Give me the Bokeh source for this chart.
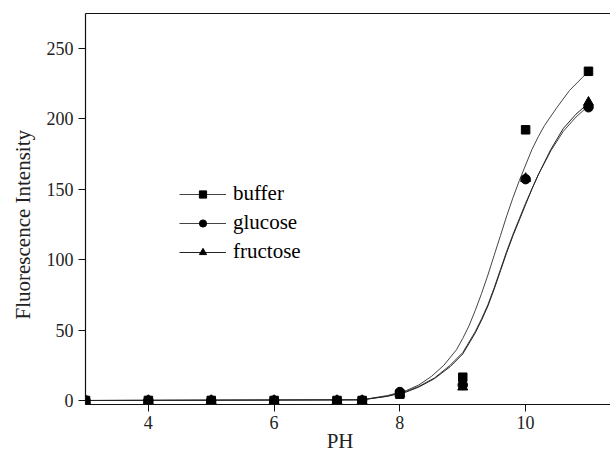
from bokeh.plotting import figure
from bokeh.models import Range1d, LinearAxis, FixedTicker, Legend, LegendItem
from bokeh.embed import file_html
from bokeh.resources import INLINE

# measured points
ph = [3, 4, 5, 6, 7, 7.4, 8, 9, 10, 11]
buffer_vals = [0, 0, 0, 0, 0, 0, 4.5, 16.5, 192, 233.5]
glucose_vals = [0, 0, 0, 0, 0, 0, 6, 11, 157, 208]
fructose_vals = [0, 0, 0, 0, 0, 0, 5, 9.5, 157.5, 211.5]

# fitted curves
buffer_fit_ph = [3, 7.4, 7.8, 8.1, 8.3, 8.5, 8.7, 8.9, 9.0, 9.1, 9.2, 9.3, 9.4, 9.5,
                 9.6, 9.7, 9.8, 9.9, 10.0, 10.1, 10.2, 10.3, 10.5, 10.7, 10.9, 11.0]
buffer_fit = [0, 0.5, 3.5, 7, 11, 17, 25, 36, 44, 53, 64, 76, 89, 103,
              117, 131, 144, 156, 167, 178, 187, 195, 208, 220, 229, 233.5]
sugar_fit_ph = [3, 7.4, 7.8, 8.1, 8.3, 8.55, 8.8, 9.0, 9.2, 9.3, 9.4, 9.5, 9.6, 9.7,
                9.8, 9.9, 10.0, 10.1, 10.2, 10.4, 10.6, 10.8, 11.0]
glucose_fit = [0, 0.5, 3, 6.5, 10, 16, 25, 34, 49, 58, 68, 80, 93, 106,
               118, 129, 140, 150, 160, 177, 191, 201, 209]
fructose_fit = [0, 0.5, 3, 6, 9.5, 15.5, 24, 33, 48, 57, 67, 79, 92, 105,
                117, 128, 139, 150, 160, 178, 193, 203, 211]

x_ticks = [4, 6, 8, 10]
y_ticks = [0, 50, 100, 150, 200, 250]

FONT = "Liberation Serif"
NB = "\u00a0"

p = figure(width=610, height=456, output_backend="svg", toolbar_location=None,
           x_range=Range1d(3, 11.35), y_range=Range1d(-2.84, 274.5),
           min_border_left=85, min_border_right=0, min_border_top=13,
           min_border_bottom=52)
p.outline_line_color = None
p.grid.visible = False
p.background_fill_color = "white"
p.border_fill_color = "white"

for ax in (p.xaxis[0], p.yaxis[0]):
    ax.axis_line_color = "#111"
    ax.axis_line_width = 1.2
    ax.major_tick_line_color = "#111"
    ax.major_tick_out = 7
    ax.major_tick_in = 0
    ax.minor_tick_line_color = None
    ax.major_label_text_font = FONT
    ax.major_label_text_font_size = "18px"
    ax.major_label_text_color = "#222"
    ax.axis_label_text_font = FONT
    ax.axis_label_text_font_size = "21px"
    ax.axis_label_text_font_style = "normal"
    ax.axis_label_text_color = "#222"
p.xaxis[0].ticker = FixedTicker(ticks=x_ticks)
p.yaxis[0].ticker = FixedTicker(ticks=y_ticks)
p.xaxis[0].major_label_standoff = 4
p.yaxis[0].major_label_standoff = 5
p.xaxis[0].axis_label = "PH" + NB * 3
p.xaxis[0].axis_label_standoff = -3
p.yaxis[0].axis_label = "Fluorescence Intensity" + NB * 6
p.yaxis[0].axis_label_standoff = 9

top = LinearAxis(ticker=FixedTicker(ticks=[]), major_label_text_font_size="0px",
                 axis_line_color="#111", axis_line_width=1.2,
                 major_tick_line_color=None, minor_tick_line_color=None)
p.add_layout(top, "above")

LINE_C = "#444"
lb = p.line(buffer_fit_ph, buffer_fit, line_color=LINE_C, line_width=1)
lg = p.line(sugar_fit_ph, glucose_fit, line_color=LINE_C, line_width=1)
lf = p.line(sugar_fit_ph, fructose_fit, line_color="#222", line_width=1)

sb = p.scatter(ph, buffer_vals, marker="square", size=8.5, color="black")
sg = p.scatter(ph, glucose_vals, marker="circle", size=9.5, color="black")
sf = p.scatter(ph, fructose_vals, marker="triangle", size=10, color="black")

legend = Legend(items=[
    LegendItem(label="buffer", renderers=[lb, sb]),
    LegendItem(label="glucose", renderers=[lg, sg]),
    LegendItem(label="fructose", renderers=[lf, sf]),
], location=(94, 140), glyph_width=47, glyph_height=18, label_height=18,
    spacing=4, padding=0, margin=0, label_standoff=7,
    label_text_font=FONT, label_text_font_size="21px", label_text_color="black",
    background_fill_alpha=0, border_line_color=None)
p.add_layout(legend)

open("out.html", "w").write(file_html(p, INLINE))
